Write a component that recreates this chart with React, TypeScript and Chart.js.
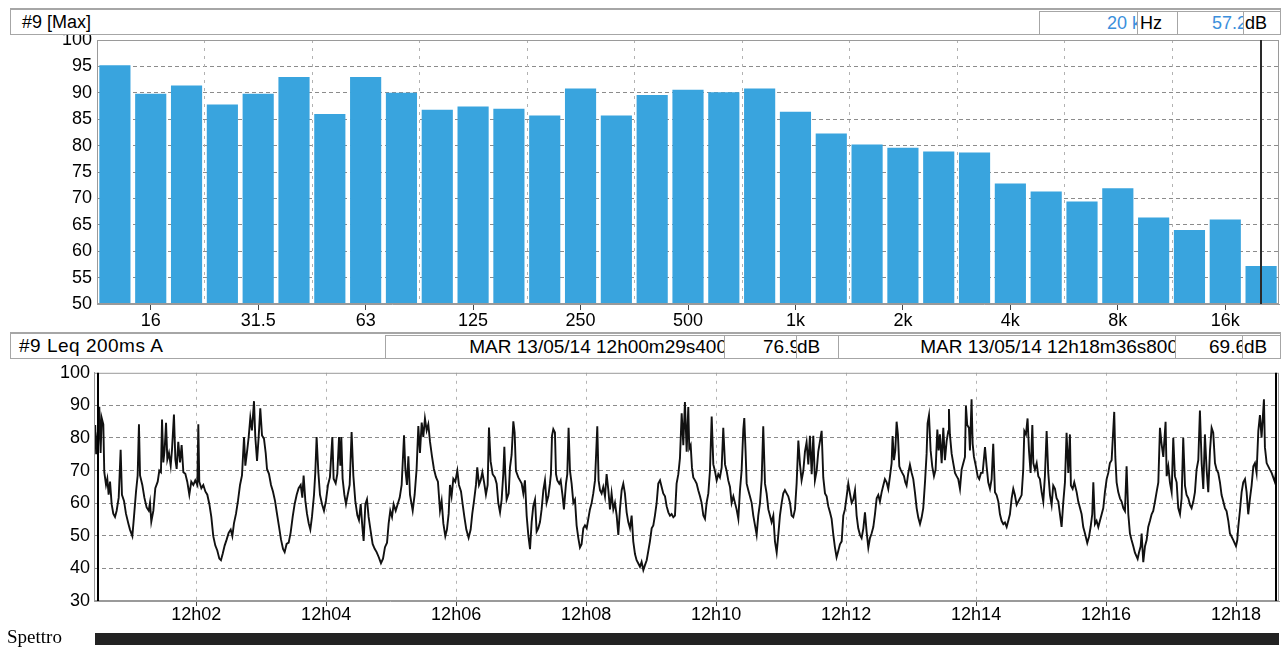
import React, { useEffect, useRef } from 'react';
import { Chart, registerables } from 'chart.js';

Chart.register(...registerables);

const FONT = '"Liberation Sans", Arial, Helvetica, sans-serif';
const BLUE_TEXT = '#3b8fdc';

// ---------- spectrum (1/3 octave, Max) ----------
const BAND_LABELS = ['12.5', '16', '20', '25', '31.5', '40', '50', '63', '80', '100', '125', '160', '200', '250', '315', '400', '500', '630', '800', '1k', '1.25k', '1.6k', '2k', '2.5k', '3.15k', '4k', '5k', '6.3k', '8k', '10k', '12.5k', '16k', '20k'];
const BAND_MAX_DB = [95.2, 89.8, 91.4, 87.8, 89.8, 93.0, 86.0, 93.0, 90.0, 86.8, 87.4, 87.0, 85.7, 90.8, 85.7, 89.6, 90.6, 90.1, 90.8, 86.4, 82.3, 80.2, 79.6, 78.9, 78.7, 72.8, 71.3, 69.4, 71.9, 66.4, 64.0, 66.0, 57.2];
const OCTAVE_LABELS = ['16', '31.5', '63', '125', '250', '500', '1k', '2k', '4k', '8k', '16k'];
const CURSOR_BAND = '20k';
const CURSOR_BAND_TEXT = '20 k';
const CURSOR_BAND_DB = 57.2;

// ---------- time history (Leq 200ms A) ----------
const DATE_TEXT = 'MAR 13/05/14';
const TIME_MIN_S = 25.7;
const TIME_MAX_S = 1119.6;
const TIME_TICK_S = [120, 240, 360, 480, 600, 720, 840, 960, 1080];
const TIME_TICK_LABELS = ['12h02', '12h04', '12h06', '12h08', '12h10', '12h12', '12h14', '12h16', '12h18'];
const CURSOR_A_S = 29.4;
const CURSOR_A_DB = 76.9;
const CURSOR_B_S = 1116.8;
const CURSOR_B_DB = 69.6;

// [seconds after 12h00, dB]
const LEQ_SAMPLES: [number, number][] = [
  [25.9, 80.0], [26.8, 84.0], [27.7, 75.0], [28.6, 79.0], [29.4, 76.9],
  [30.6, 89.6], [31.8, 75.4], [32.8, 86.2], [34.3, 84.2], [35.2, 69.5], [36.8, 65.6], [38.0, 67.5], [39.2, 62.6], [40.5, 66.6], [42.0, 59.7],
  [43.5, 56.8], [45.1, 55.8], [46.6, 57.7], [48.5, 61.7], [50.3, 76.4], [51.5, 62.6], [53.4, 60.7], [55.2, 56.8], [57.4, 53.8], [58.9, 51.9],
  [61.1, 49.9], [62.6, 55.8], [64.5, 63.6], [66.0, 68.5], [67.2, 84.2], [68.2, 68.5], [70.3, 65.6], [72.2, 61.7], [74.3, 58.7], [76.2, 57.7],
  [77.4, 60.2], [78.6, 54.3], [80.5, 57.7], [82.3, 64.6], [84.5, 66.6], [86.0, 70.0], [87.5, 69.5], [88.5, 85.7], [89.7, 72.5], [90.9, 76.4],
  [92.2, 84.7], [93.4, 73.4], [94.9, 75.4], [96.5, 71.5], [97.7, 76.4], [99.5, 87.2], [100.8, 73.4], [102.0, 70.5], [103.5, 78.8], [105.1, 72.5],
  [106.6, 77.8], [108.2, 69.5], [110.0, 69.0], [111.8, 66.6], [113.7, 62.6], [115.5, 66.6], [117.4, 65.6], [119.2, 67.0], [121.1, 65.6], [122.0, 84.2],
  [122.9, 66.6], [124.8, 64.6], [126.6, 65.6], [128.5, 63.6], [130.3, 62.6], [132.2, 59.7], [134.0, 55.8], [135.8, 49.9], [137.7, 47.0], [139.5, 45.5],
  [141.4, 43.0], [142.9, 42.5], [144.5, 44.5], [146.3, 47.0], [148.2, 48.9], [150.0, 50.9], [151.9, 51.9], [153.4, 49.9], [154.9, 53.8], [156.8, 56.8],
  [158.6, 60.7], [160.5, 65.6], [162.3, 68.5], [164.2, 80.3], [165.4, 71.5], [167.2, 76.4], [168.5, 80.3], [170.0, 86.2], [171.5, 82.3], [173.4, 91.3],
  [174.6, 80.3], [176.2, 73.0], [177.7, 80.3], [179.2, 89.1], [180.8, 80.8], [182.6, 79.8], [184.2, 75.4], [185.4, 70.5], [187.2, 69.0], [189.1, 65.6],
  [190.9, 63.6], [192.8, 60.7], [194.6, 56.8], [196.5, 52.8], [198.3, 48.9], [200.2, 46.0], [201.7, 45.0], [203.5, 47.5], [205.4, 47.9], [207.2, 50.9],
  [209.1, 55.8], [210.9, 59.7], [212.8, 62.6], [214.6, 64.6], [216.5, 65.6], [218.0, 61.7], [219.2, 68.5], [220.8, 60.7], [222.3, 56.8], [223.9, 53.8],
  [225.4, 51.9], [226.9, 55.8], [228.8, 62.6], [230.0, 69.5], [231.2, 80.3], [232.8, 69.5], [234.3, 62.6], [236.2, 59.7], [238.0, 57.7], [239.8, 60.7],
  [241.7, 65.6], [243.5, 68.0], [245.7, 80.3], [246.9, 67.5], [248.8, 66.1], [250.3, 69.0], [251.9, 80.3], [253.1, 71.5], [254.0, 80.3], [255.2, 67.5],
  [256.8, 62.6], [258.3, 59.7], [259.9, 62.6], [261.7, 65.6], [263.5, 81.8], [265.1, 68.5], [266.9, 60.7], [268.8, 56.3], [270.3, 54.8], [271.9, 59.7],
  [273.4, 52.8], [274.6, 48.4], [276.2, 59.7], [277.7, 61.2], [279.2, 55.8], [281.1, 51.4], [282.9, 47.5], [284.8, 46.0], [286.6, 45.0], [288.5, 43.5],
  [290.6, 41.6], [292.5, 43.0], [294.3, 46.5], [296.2, 47.9], [297.7, 53.8], [299.2, 57.7], [300.8, 55.8], [302.3, 59.7], [304.2, 57.7], [306.0, 59.7],
  [307.9, 61.7], [309.7, 65.6], [311.9, 80.8], [313.1, 70.5], [314.6, 65.6], [315.9, 74.4], [317.4, 62.6], [319.9, 57.7], [321.7, 62.6], [323.5, 70.5],
  [325.1, 83.7], [326.6, 75.4], [328.2, 84.7], [329.7, 80.3], [331.2, 86.0], [332.8, 82.3], [334.3, 84.2], [335.9, 78.8], [337.7, 74.4], [339.5, 70.5],
  [341.4, 68.0], [343.2, 66.6], [345.1, 57.7], [346.6, 60.7], [348.2, 53.8], [350.0, 49.9], [351.5, 51.9], [353.1, 56.8], [354.3, 65.6], [355.8, 62.2],
  [357.4, 67.5], [359.2, 66.6], [361.1, 70.0], [362.6, 65.6], [364.5, 63.6], [366.0, 59.7], [367.6, 55.8], [369.4, 51.9], [371.5, 49.4], [373.4, 51.9],
  [374.9, 56.8], [376.5, 60.7], [378.3, 65.6], [379.5, 71.0], [381.1, 65.6], [382.6, 67.0], [384.2, 69.5], [385.7, 66.6], [387.5, 62.6], [389.1, 65.6],
  [390.3, 83.2],
  [391.8, 72.9], [393.7, 68.9], [395.8, 67.9], [397.4, 66.0], [398.9, 60.1], [400.5, 57.2], [402.0, 61.1], [403.5, 68.9], [404.5, 77.3], [405.4, 68.9],
  [406.6, 61.1], [408.5, 63.0], [409.7, 70.9], [411.2, 74.8], [412.8, 85.1], [414.0, 81.7], [415.2, 69.9], [417.4, 67.9], [418.9, 67.0], [420.5, 66.0],
  [422.0, 63.0], [423.5, 67.0], [425.1, 56.2], [426.6, 50.3], [428.2, 45.9], [429.7, 54.2], [431.2, 59.1], [432.8, 61.1], [434.3, 51.3], [435.8, 52.3],
  [437.4, 54.2], [438.9, 58.1], [440.5, 64.0], [442.0, 67.0], [443.5, 60.1], [445.1, 62.1], [446.6, 66.0], [447.5, 68.9], [448.5, 80.7], [449.7, 82.7],
  [451.2, 81.7], [452.2, 68.9], [453.4, 67.0], [455.2, 66.0], [456.5, 67.0], [458.3, 62.1], [459.5, 58.1], [461.4, 66.0], [462.6, 68.9], [463.8, 83.1],
  [465.1, 69.9], [466.6, 66.0], [468.2, 60.1], [469.7, 61.1], [471.2, 53.2], [472.8, 49.3], [474.3, 46.4], [475.8, 47.4], [477.4, 52.3], [478.9, 53.2],
  [480.5, 52.3], [482.0, 55.2], [483.5, 58.1], [485.1, 60.1], [486.6, 63.0], [488.2, 67.0], [490.3, 83.6], [491.5, 67.0], [492.8, 64.0], [494.3, 63.0],
  [495.8, 65.0], [497.4, 62.1], [498.9, 68.9], [500.5, 64.0], [502.0, 58.1], [503.5, 63.0], [505.1, 58.1], [506.6, 60.1], [508.2, 56.2], [509.7, 50.3],
  [511.2, 58.1], [512.8, 64.0], [514.3, 66.0], [515.8, 63.0], [517.4, 57.2], [518.9, 54.2], [520.5, 52.3], [522.0, 56.2], [523.5, 48.3], [525.1, 44.4],
  [526.6, 42.5], [528.2, 41.5], [529.7, 40.5], [531.2, 42.0], [532.8, 39.5], [534.3, 41.0], [535.9, 42.5], [537.4, 45.4], [538.9, 48.3], [540.5, 52.3],
  [542.0, 53.2], [543.5, 56.2], [545.1, 60.1], [546.6, 66.0], [548.2, 67.0], [549.7, 65.0], [551.2, 63.0], [552.8, 62.1], [554.3, 59.1], [555.9, 57.2],
  [557.4, 56.2], [558.9, 56.7], [560.5, 55.7], [562.0, 56.2], [563.5, 66.0], [565.1, 68.9], [566.6, 73.8], [568.2, 87.6], [569.7, 77.8], [571.2, 91.0],
  [572.8, 75.8], [574.3, 89.5], [575.2, 76.8], [576.5, 77.8], [577.7, 70.9], [578.9, 67.9], [580.5, 67.0], [582.0, 66.0], [583.5, 64.0], [585.1, 62.1],
  [586.6, 60.1], [588.2, 56.2], [589.7, 55.2], [591.2, 60.1], [592.8, 63.0], [594.3, 69.9], [595.9, 86.6], [597.4, 71.9], [598.9, 69.9], [600.5, 67.0],
  [602.0, 68.9], [603.5, 67.9], [605.1, 70.9], [606.6, 83.1], [608.2, 71.9], [609.7, 69.9], [611.2, 67.0], [612.8, 65.0], [614.3, 60.1], [615.9, 62.1],
  [617.4, 60.1], [618.9, 58.1], [620.5, 55.2], [622.0, 64.0], [623.5, 69.9], [625.1, 82.7], [626.0, 86.1], [627.2, 75.8], [628.2, 66.0], [629.7, 64.0],
  [631.2, 62.1], [632.8, 60.1], [634.3, 56.2], [635.9, 53.2], [637.4, 50.3], [638.9, 56.2], [640.5, 60.1], [642.0, 67.0], [643.5, 83.6], [645.1, 66.0],
  [646.6, 63.0], [648.2, 58.1], [649.7, 56.2], [651.2, 54.2], [652.8, 56.2], [654.3, 48.3], [655.9, 44.9], [657.4, 50.3], [658.9, 56.2], [660.5, 60.1],
  [662.0, 63.0], [663.5, 64.0], [665.1, 63.0], [666.6, 62.1], [668.2, 60.1], [669.7, 56.2], [671.2, 55.7], [672.8, 58.1], [674.3, 66.0], [675.9, 79.2],
  [677.4, 71.9], [678.9, 67.0], [680.5, 69.9], [682.0, 75.8], [683.5, 78.7], [685.1, 71.9], [686.6, 80.7], [688.2, 68.9], [689.7, 80.7], [691.2, 67.0],
  [692.8, 69.9], [694.3, 75.8], [697.4, 82.2], [698.9, 67.9], [700.5, 63.0], [702.0, 62.1], [703.5, 59.1], [705.1, 57.2], [706.6, 55.2], [708.2, 50.3],
  [709.7, 46.4], [711.2, 43.4], [712.8, 45.4], [714.3, 47.4], [715.9, 48.3], [717.4, 56.2], [718.9, 58.1], [720.5, 62.1], [722.0, 66.0], [723.5, 63.0],
  [725.1, 60.1], [726.6, 61.1], [728.2, 64.0], [729.7, 56.2], [731.2, 52.3], [732.8, 50.3], [734.3, 49.3], [735.9, 52.3], [737.4, 57.2], [738.9, 51.3],
  [740.5, 46.4], [742.0, 49.3],
  [743.5, 50.7], [745.1, 52.7], [746.6, 56.6], [748.2, 61.5], [749.7, 62.5], [751.2, 60.5], [752.8, 63.4], [754.3, 65.4], [755.8, 67.4], [757.4, 66.4],
  [758.9, 64.4], [760.5, 68.3], [762.0, 72.3], [762.9, 80.6], [764.2, 73.2], [765.4, 76.2], [766.6, 85.0], [767.8, 81.1], [769.1, 71.3], [770.3, 70.3],
  [771.8, 69.3], [773.4, 68.3], [774.6, 66.4], [775.8, 65.4], [777.4, 69.3], [778.9, 71.8], [780.5, 69.3], [782.0, 67.4], [783.5, 63.4], [785.1, 58.5],
  [786.6, 55.6], [788.2, 53.6], [789.7, 55.6], [791.2, 58.5], [792.8, 66.4], [794.3, 75.2], [795.2, 84.5], [796.5, 87.0], [798.0, 76.2], [799.5, 71.3],
  [801.1, 68.3], [802.6, 70.3], [804.2, 82.6], [805.4, 76.2], [806.6, 81.1], [808.2, 72.3], [809.7, 83.1], [811.2, 73.2], [812.8, 79.1], [814.3, 82.1],
  [814.9, 88.9], [815.8, 81.1], [817.4, 75.2], [818.9, 72.3], [820.5, 69.3], [822.0, 68.3], [823.5, 67.4], [825.1, 64.4], [826.6, 70.3], [828.2, 72.3],
  [829.7, 74.2], [830.6, 89.9], [831.8, 84.0], [833.4, 83.1], [834.3, 76.2], [835.8, 91.9], [836.8, 78.2], [838.0, 74.2], [839.8, 71.3], [841.4, 68.3],
  [842.9, 67.4], [844.5, 69.3], [846.0, 69.3], [848.2, 77.2], [849.7, 71.3], [851.2, 66.4], [852.8, 64.4], [854.3, 67.4], [855.8, 78.2], [857.4, 63.4],
  [858.9, 62.5], [860.5, 60.5], [862.0, 56.6], [863.5, 54.6], [865.1, 53.6], [866.6, 54.1], [868.2, 52.7], [869.7, 54.6], [871.2, 56.6], [872.8, 61.5],
  [874.3, 64.4], [875.8, 62.5], [877.4, 59.5], [878.9, 60.5], [880.5, 61.5], [882.0, 62.5], [883.5, 70.3], [884.5, 82.1], [886.0, 81.1], [887.5, 86.0],
  [888.8, 76.2], [890.3, 69.3], [891.9, 84.0], [892.8, 72.3], [894.3, 70.3], [895.9, 72.3], [897.4, 68.3], [898.9, 67.4], [900.5, 63.4], [902.0, 60.5],
  [903.5, 68.3], [905.1, 82.1], [906.6, 69.3], [908.2, 62.5], [909.7, 59.5], [911.2, 65.4], [912.8, 64.4], [914.3, 61.5], [915.9, 60.5], [917.4, 56.6],
  [918.9, 52.7], [920.5, 60.5], [922.0, 66.4], [923.5, 81.6], [925.1, 69.3], [926.6, 81.1], [927.5, 65.4], [929.1, 64.4], [930.6, 66.4], [932.8, 63.4],
  [934.3, 60.5], [935.9, 58.5], [937.4, 56.6], [938.9, 52.7], [940.5, 50.7], [942.6, 47.8], [944.2, 49.7], [945.7, 52.7], [947.2, 56.6], [948.2, 66.4],
  [949.7, 53.6], [951.2, 54.6], [952.8, 52.7], [954.3, 54.6], [955.9, 56.6], [957.4, 58.5], [958.9, 63.4], [960.5, 67.4], [962.0, 69.3], [963.5, 72.3],
  [965.1, 73.2], [967.5, 88.0], [968.5, 74.2], [969.7, 66.4], [971.2, 63.4], [972.8, 61.5], [974.3, 60.5], [975.9, 58.5], [977.4, 57.6], [978.9, 71.3],
  [980.5, 56.6], [982.0, 50.7], [983.5, 48.7], [985.1, 46.8], [986.6, 44.8], [989.1, 42.9], [990.3, 44.8], [991.9, 46.8], [992.8, 50.7], [994.3, 41.9],
  [995.9, 46.8], [997.4, 48.7], [998.9, 52.7], [1000.5, 54.6], [1002.0, 56.6], [1003.5, 57.6], [1005.1, 60.5], [1006.6, 63.4], [1008.2, 66.4], [1009.7, 83.1],
  [1011.2, 78.2], [1012.8, 74.2], [1014.9, 85.0], [1015.9, 68.3], [1017.4, 71.3], [1018.9, 66.4], [1020.5, 63.4], [1022.0, 80.1], [1023.5, 68.3], [1025.1, 66.4],
  [1026.6, 58.5], [1028.2, 56.6], [1029.7, 61.5], [1031.2, 80.1], [1032.8, 65.4], [1034.3, 62.5], [1035.9, 61.5], [1037.4, 59.5], [1038.9, 58.5], [1040.5, 60.5],
  [1042.0, 63.4], [1043.5, 70.3], [1045.1, 73.2], [1046.6, 88.4], [1048.2, 72.3], [1049.7, 64.4], [1051.2, 81.1], [1052.8, 70.3], [1054.3, 63.4], [1055.9, 76.2],
  [1057.4, 83.1], [1058.9, 81.6], [1060.5, 72.3], [1062.0, 70.3], [1063.5, 69.3], [1065.1, 66.4], [1066.6, 62.5], [1068.2, 60.5], [1069.7, 58.5], [1071.2, 57.6],
  [1072.8, 54.6], [1074.3, 50.7], [1075.9, 49.7], [1077.4, 48.7], [1079.9, 46.8], [1081.1, 48.7], [1082.0, 52.7], [1083.5, 57.6], [1085.1, 63.4], [1086.6, 66.4],
  [1088.2, 67.4], [1089.7, 63.4], [1091.2, 56.6], [1092.8, 61.5], [1094.3, 65.4], [1095.9, 71.3], [1097.4, 72.3], [1098.9, 69.3], [1100.5, 82.1], [1102.0, 87.0],
  [1103.5, 80.1], [1105.7, 91.9], [1106.6, 77.2], [1108.2, 72.3], [1109.7, 71.3], [1111.2, 70.3], [1112.8, 69.3], [1115.9, 66.4], [1116.8, 69.6],
];

function clock(s: number): string {
  const m = Math.floor(s / 60);
  const sec = Math.floor(s - m * 60);
  const ms = Math.round((s - Math.floor(s)) * 1000);
  return `12h${String(m).padStart(2, '0')}m${String(sec).padStart(2, '0')}s${String(ms).padStart(3, '0')}`;
}

const isOctave = (i: number) => OCTAVE_LABELS.includes(BAND_LABELS[i]);
const hideEnds = (lo: number, hi: number, color: string) => (c: any) =>
  c.tick && (c.tick.value === lo || c.tick.value === hi) ? 'rgba(0,0,0,0)' : color;

const spectrumDecor = {
  id: 'spectrumDecor',
  beforeDatasetsDraw(chart: any) {
    const { ctx, chartArea: a, scales } = chart;
    const x = scales.x;
    ctx.save();
    ctx.strokeStyle = '#b2b2b2';
    ctx.lineWidth = 1;
    ctx.setLineDash([3, 5]);
    for (let i = 2; i < BAND_LABELS.length - 3; i += 3) {
      const px = Math.round((x.getPixelForValue(i) + x.getPixelForValue(i + 1)) / 2) + 0.5;
      ctx.beginPath();
      ctx.moveTo(px, a.top);
      ctx.lineTo(px, a.bottom);
      ctx.stroke();
    }
    ctx.restore();
  },
  afterDatasetsDraw(chart: any) {
    const { ctx, chartArea: a, scales } = chart;
    ctx.save();
    ctx.strokeStyle = '#9a9a9a';
    ctx.lineWidth = 1;
    ctx.strokeRect(a.left + 0.5, a.top + 0.5, a.right - a.left - 1, a.bottom - a.top - 1);
    const cx = Math.round(scales.x.getPixelForValue(BAND_LABELS.indexOf(CURSOR_BAND)));
    ctx.strokeStyle = '#2a2a2a';
    ctx.lineWidth = 2;
    ctx.beginPath();
    ctx.moveTo(cx, a.top);
    ctx.lineTo(cx, a.bottom);
    ctx.stroke();
    ctx.restore();
  },
};

const historyDecor = {
  id: 'historyDecor',
  afterDatasetsDraw(chart: any) {
    const { ctx, chartArea: a, scales } = chart;
    ctx.save();
    ctx.strokeStyle = '#9a9a9a';
    ctx.lineWidth = 1;
    ctx.strokeRect(a.left + 0.5, a.top + 0.5, a.right - a.left - 1, a.bottom - a.top - 1);
    ctx.strokeStyle = '#000';
    ctx.lineWidth = 2;
    [CURSOR_A_S, CURSOR_B_S].forEach((t) => {
      const px = Math.round(scales.x.getPixelForValue(t));
      ctx.beginPath();
      ctx.moveTo(px, a.top);
      ctx.lineTo(px, a.bottom);
      ctx.stroke();
    });
    ctx.restore();
  },
};

const tickFont = { family: FONT, size: 18 };

function SpectrumChart() {
  const ref = useRef<HTMLCanvasElement>(null);
  useEffect(() => {
    const chart = new Chart(ref.current as HTMLCanvasElement, {
      type: 'bar',
      data: {
        labels: BAND_LABELS,
        datasets: [
          {
            data: BAND_MAX_DB,
            backgroundColor: '#39a4de',
            borderWidth: 0,
            barPercentage: 0.87,
            categoryPercentage: 1,
          },
        ],
      },
      options: {
        responsive: false,
        animation: false,
        devicePixelRatio: 1,
        layout: { padding: { top: 40, right: 2, left: 0, bottom: 0 } },
        plugins: { legend: { display: false }, tooltip: { enabled: false } },
        scales: {
          x: {
            type: 'category',
            offset: true,
            grid: {
              offset: false,
              drawOnChartArea: false,
              drawTicks: true,
              tickLength: 6,
              tickColor: (c: any) => (isOctave(c.index) ? '#444' : 'rgba(0,0,0,0)'),
            },
            border: { color: '#9a9a9a' },
            ticks: {
              autoSkip: false,
              maxRotation: 0,
              minRotation: 0,
              padding: 0,
              color: '#000',
              font: tickFont,
              callback: (_v: any, i: number) => (isOctave(i) ? BAND_LABELS[i] : ''),
            },
            afterFit: (a: any) => {
              a.height = 31;
            },
          },
          y: {
            min: 50,
            max: 100,
            ticks: { stepSize: 5, padding: 5, color: '#000', font: tickFont },
            grid: { drawTicks: false, color: hideEnds(50, 100, '#8c8c8c') },
            border: { color: '#a0a0a0', dash: [4, 3] },
            afterFit: (a: any) => {
              a.width = 97;
            },
          },
        },
      } as any,
      plugins: [spectrumDecor],
    });
    return () => chart.destroy();
  }, []);
  return <canvas ref={ref} width={1281} height={335} style={{ position: 'absolute', left: 0, top: 0, display: 'block' }} />;
}

function HistoryChart() {
  const ref = useRef<HTMLCanvasElement>(null);
  useEffect(() => {
    const chart = new Chart(ref.current as HTMLCanvasElement, {
      type: 'line',
      data: {
        datasets: [
          {
            data: LEQ_SAMPLES.map(([x, y]) => ({ x, y })),
            borderColor: '#111',
            borderWidth: 1.9,
            pointRadius: 0,
            tension: 0,
            fill: false,
          },
        ],
      },
      options: {
        responsive: false,
        animation: false,
        devicePixelRatio: 1,
        layout: { padding: { top: 5, right: 2, left: 0, bottom: 0 } },
        plugins: { legend: { display: false }, tooltip: { enabled: false } },
        scales: {
          x: {
            type: 'linear',
            min: TIME_MIN_S,
            max: TIME_MAX_S,
            afterBuildTicks: (a: any) => {
              a.ticks = TIME_TICK_S.map((v) => ({ value: v }));
            },
            grid: { color: '#b4b4b4', tickColor: '#444', tickLength: 5 },
            border: { color: '#9a9a9a', dash: [3, 5] },
            ticks: {
              autoSkip: false,
              maxRotation: 0,
              minRotation: 0,
              padding: -2,
              color: '#000',
              font: tickFont,
              callback: (_v: any, i: number) => TIME_TICK_LABELS[i] ?? '',
            },
            afterFit: (a: any) => {
              a.height = 31;
            },
          },
          y: {
            min: 30,
            max: 100,
            ticks: { stepSize: 10, padding: 4, color: '#000', font: tickFont },
            grid: { drawTicks: false, color: hideEnds(30, 100, '#8c8c8c') },
            border: { color: '#a0a0a0', dash: [4, 3] },
            afterFit: (a: any) => {
              a.width = 94;
            },
          },
        },
      } as any,
      plugins: [historyDecor],
    });
    return () => chart.destroy();
  }, []);
  return <canvas ref={ref} width={1281} height={274} style={{ position: 'absolute', left: 0, top: 358, display: 'block' }} />;
}

type CellProps = {
  l: number;
  t: number;
  w: number;
  h: number;
  text?: string;
  align?: 'left' | 'right';
  pad?: number;
  color?: string;
  size?: number;
  ls?: number;
  topBorder?: number;
};

function Cell({ l, t, w, h, text = '', align = 'left', pad = 4, color = '#000', size = 17, ls = 0, topBorder = 1 }: CellProps) {
  const side: React.CSSProperties = align === 'right' ? { right: pad } : { left: pad };
  return (
    <div
      style={{
        position: 'absolute',
        left: l,
        top: t,
        width: w,
        height: h,
        boxSizing: 'border-box',
        border: '1px solid #a6a6a6',
        borderTopWidth: topBorder,
        background: '#fff',
        overflow: 'hidden',
      }}
    >
      <span
        style={{
          position: 'absolute',
          top: 0,
          ...side,
          lineHeight: `${h - 1 - topBorder}px`,
          whiteSpace: 'nowrap',
          color,
          fontSize: size,
          fontFamily: FONT,
          letterSpacing: ls,
        }}
      >
        {text}
      </span>
    </div>
  );
}

export default function App() {
  return (
    <div style={{ position: 'absolute', left: 0, top: 0, width: 1281, height: 649, background: '#fff', overflow: 'hidden' }}>
      <SpectrumChart />
      <HistoryChart />

      {/* spectrum header */}
      <Cell l={10} t={8} w={1271} h={27} text="#9 [Max]" pad={11} size={18} topBorder={2} />
      <Cell l={1039} t={11} w={99} h={24} text={CURSOR_BAND_TEXT} align="right" pad={-4} size={18} color={BLUE_TEXT} />
      <Cell l={1137} t={11} w={41} h={24} text="Hz" pad={2} size={18} />
      <Cell l={1177} t={11} w={67} h={24} text={CURSOR_BAND_DB.toFixed(1)} align="right" pad={-4} size={18} color={BLUE_TEXT} />
      <Cell l={1243} t={11} w={38} h={24} text="dB" pad={1} size={18} />

      {/* time-history header */}
      <Cell l={10} t={332} w={1271} h={27} text="#9 Leq 200ms A" pad={8} size={19} ls={0.5} topBorder={2} />
      <Cell l={385} t={335} w={340} h={24} text={`${DATE_TEXT} ${clock(CURSOR_A_S)}`} align="right" pad={-3} size={19} />
      <Cell l={724} t={335} w={73} h={24} text={CURSOR_A_DB.toFixed(1)} align="right" pad={-4} size={19} />
      <Cell l={796} t={335} w={43} h={24} text="dB" pad={0} size={19} />
      <Cell l={838} t={335} w={338} h={24} text={`${DATE_TEXT} ${clock(CURSOR_B_S)}`} align="right" pad={-3} size={19} />
      <Cell l={1175} t={335} w={68} h={24} text={CURSOR_B_DB.toFixed(1)} align="right" pad={-4} size={19} />
      <Cell l={1242} t={335} w={39} h={24} text="dB" pad={1} size={19} />

      {/* spectrogram strip */}
      <div style={{ position: 'absolute', left: 7, top: 626, fontFamily: '"Liberation Serif", "Times New Roman", serif', fontSize: 19, color: '#000' }}>
        Spettro
      </div>
      <div style={{ position: 'absolute', left: 95, top: 633, width: 1184, height: 12, background: '#222' }} />
    </div>
  );
}
